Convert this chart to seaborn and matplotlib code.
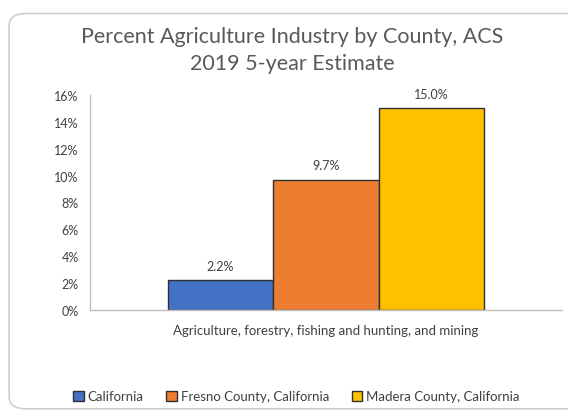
import numpy as np
import pandas as pd
import matplotlib.pyplot as plt
import seaborn as sns
from matplotlib.patches import FancyBboxPatch

# data
category = ["Agriculture, forestry, fishing and hunting, and mining"]
places = ["California", "Fresno County, California", "Madera County, California"]
pct = [2.2, 9.7, 15.0]
colors = ["#4472C4", "#ED7D31", "#FFC000"]

df = pd.DataFrame({"industry": category * len(places), "place": places, "pct": pct})

sns.set_theme(style="white")
plt.rcParams['font.family'] = ['Lato', 'DejaVu Sans']

fig = plt.figure(figsize=(5.68, 4.14), dpi=100)
# rounded chart frame
frame = FancyBboxPatch((0.016, 0.01), 1.1, 0.955, boxstyle="round,pad=0,rounding_size=0.03",
                       transform=fig.transFigure, fc="white", ec="#d0d0d0", lw=1.2, zorder=-5)
fig.patches.append(frame)

ax = fig.add_axes([0.158, 0.249, 0.832, 0.519])
ax.set_facecolor("none")
sns.barplot(data=df, x="industry", y="pct", hue="place", palette=colors, saturation=1,
            width=0.67, edgecolor="#303030", linewidth=1.0, ax=ax, legend=True)

ax.set_ylim(0, 16)
ax.set_xlim(-0.5, 0.5)
ax.set_yticks(np.arange(0, 17, 2))
ax.set_yticklabels([f"{v}%" for v in range(0, 17, 2)], fontsize=9, color="#404040")
ax.tick_params(axis="x", labelsize=9.5, colors="#404040", length=0, pad=10)
ax.tick_params(axis="y", length=0, pad=8)
ax.set_xlabel("")
ax.set_ylabel("")
for s in ["top", "right"]:
    ax.spines[s].set_visible(False)
for s in ["left", "bottom"]:
    ax.spines[s].set_color("#bfbfbf")
    ax.spines[s].set_linewidth(1.0)

for c in ax.containers:
    ax.bar_label(c, fmt="%.1f%%", padding=6, fontsize=9, color="#404040")

ax.legend_.remove()
handles = [plt.Rectangle((0, 0), 1, 1, fc=col, ec="#303030", lw=1.0) for col in colors]
fig.legend(handles, places, loc="center", bbox_to_anchor=(0.522, 0.04), ncol=3, frameon=False,
           fontsize=9.5, labelcolor="#404040", handlelength=0.8, handleheight=0.8,
           handletextpad=0.3, columnspacing=1.7)

fig.suptitle("Percent Agriculture Industry by County, ACS\n2019 5-year Estimate",
             x=0.515, y=0.935, fontsize=15.5, color="#595959", linespacing=1.45)

fig.savefig("out.png", dpi=100)
